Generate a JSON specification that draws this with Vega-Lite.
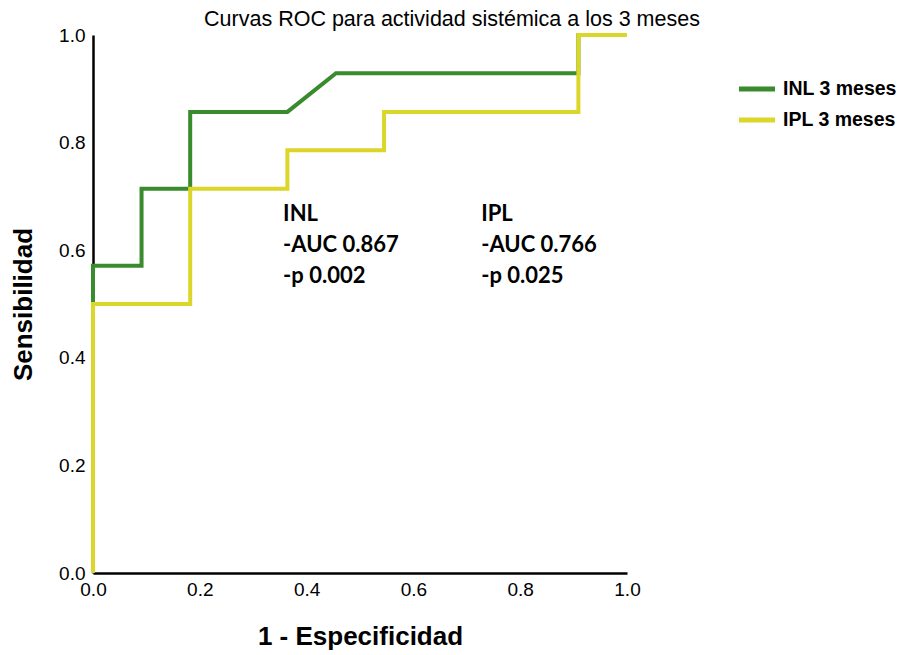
{
  "$schema": "https://vega.github.io/schema/vega-lite/v6.json",
  "width": 534,
  "height": 538,
  "autosize": {"type": "none"},
  "padding": {"left": 93, "top": 35, "right": 277, "bottom": 82},
  "background": "white",
  "title": {"text": "Curvas ROC para actividad sistémica a los 3 meses", "font": "Liberation Sans", "fontSize": 21.5, "fontWeight": "normal", "color": "black", "anchor": "middle", "frame": "group", "dx": 92, "offset": 4, "dy": 8},
  "config": {"view": {"stroke": null}},
  "datasets": {
    "roc": [
      {"fpr": 0, "sens": 0, "curve": "INL 3 meses", "step": 0},
      {"fpr": 0, "sens": 0.571, "curve": "INL 3 meses", "step": 1},
      {"fpr": 0.0909, "sens": 0.571, "curve": "INL 3 meses", "step": 2},
      {"fpr": 0.0909, "sens": 0.714, "curve": "INL 3 meses", "step": 3},
      {"fpr": 0.182, "sens": 0.714, "curve": "INL 3 meses", "step": 4},
      {"fpr": 0.182, "sens": 0.857, "curve": "INL 3 meses", "step": 5},
      {"fpr": 0.364, "sens": 0.857, "curve": "INL 3 meses", "step": 6},
      {"fpr": 0.455, "sens": 0.929, "curve": "INL 3 meses", "step": 7},
      {"fpr": 0.909, "sens": 0.929, "curve": "INL 3 meses", "step": 8},
      {"fpr": 0.909, "sens": 1, "curve": "INL 3 meses", "step": 9},
      {"fpr": 1, "sens": 1, "curve": "INL 3 meses", "step": 10},
      {"fpr": 0, "sens": 0, "curve": "IPL 3 meses", "step": 0},
      {"fpr": 0, "sens": 0.5, "curve": "IPL 3 meses", "step": 1},
      {"fpr": 0.182, "sens": 0.5, "curve": "IPL 3 meses", "step": 2},
      {"fpr": 0.182, "sens": 0.714, "curve": "IPL 3 meses", "step": 3},
      {"fpr": 0.364, "sens": 0.714, "curve": "IPL 3 meses", "step": 4},
      {"fpr": 0.364, "sens": 0.786, "curve": "IPL 3 meses", "step": 5},
      {"fpr": 0.545, "sens": 0.786, "curve": "IPL 3 meses", "step": 6},
      {"fpr": 0.545, "sens": 0.857, "curve": "IPL 3 meses", "step": 7},
      {"fpr": 0.909, "sens": 0.857, "curve": "IPL 3 meses", "step": 8},
      {"fpr": 0.909, "sens": 1, "curve": "IPL 3 meses", "step": 9},
      {"fpr": 1, "sens": 1, "curve": "IPL 3 meses", "step": 10}
    ],
    "notes": [
      {"x": 0.356, "y": 0.667, "label": "INL\n-AUC 0.867\n-p 0.002"},
      {"x": 0.727, "y": 0.667, "label": "IPL\n-AUC 0.766\n-p 0.025"}
    ]
  },
  "layer": [
    {
      "data": {"name": "roc"},
      "mark": {"type": "line", "strokeWidth": 4, "clip": false},
      "encoding": {
        "x": {"field": "fpr", "type": "quantitative", "scale": {"domain": [0, 1], "nice": false, "zero": false},
          "axis": {"title": "1 - Especificidad", "values": [0, 0.2, 0.4, 0.6, 0.8, 1], "format": ".1f", "grid": false, "ticks": false, "domainColor": "black", "domainWidth": 2.5, "labelFont": "Liberation Sans", "labelFontSize": 19, "labelColor": "black", "labelPadding": 7, "titleFont": "Liberation Sans", "titleFontSize": 26, "titleFontWeight": "bold", "titleColor": "black", "titlePadding": 24, "labelFlush": false}},
        "y": {"field": "sens", "type": "quantitative", "scale": {"domain": [0, 1], "nice": false, "zero": false},
          "axis": {"title": "Sensibilidad", "values": [0, 0.2, 0.4, 0.6, 0.8, 1], "format": ".1f", "grid": false, "ticks": false, "domainColor": "black", "domainWidth": 2.5, "labelFont": "Liberation Sans", "labelFontSize": 19, "labelColor": "black", "labelPadding": 8, "titleFont": "Liberation Sans", "titleFontSize": 26, "titleFontWeight": "bold", "titleColor": "black", "titlePadding": 22, "labelFlush": false}},
        "color": {"field": "curve", "type": "nominal",
          "scale": {"domain": ["INL 3 meses", "IPL 3 meses"], "range": ["#3a8a2e", "#dcd62a"]},
          "legend": {"title": null, "orient": "none", "legendX": 643, "legendY": 33, "symbolType": "stroke", "symbolStrokeWidth": 5, "symbolSize": 1300, "labelFont": "Liberation Sans", "labelFontSize": 19.5, "labelFontWeight": "bold", "labelColor": "black", "rowPadding": -15, "labelOffset": 5}},
        "order": {"field": "step", "type": "quantitative"}
      }
    },
    {
      "data": {"name": "notes"},
      "mark": {"type": "text", "align": "left", "baseline": "middle", "font": "Lato", "fontSize": 22, "fontWeight": "bold", "color": "black", "lineBreak": "\n", "lineHeight": 31},
      "encoding": {
        "x": {"field": "x", "type": "quantitative"},
        "y": {"field": "y", "type": "quantitative"},
        "text": {"field": "label"}
      }
    }
  ]
}
